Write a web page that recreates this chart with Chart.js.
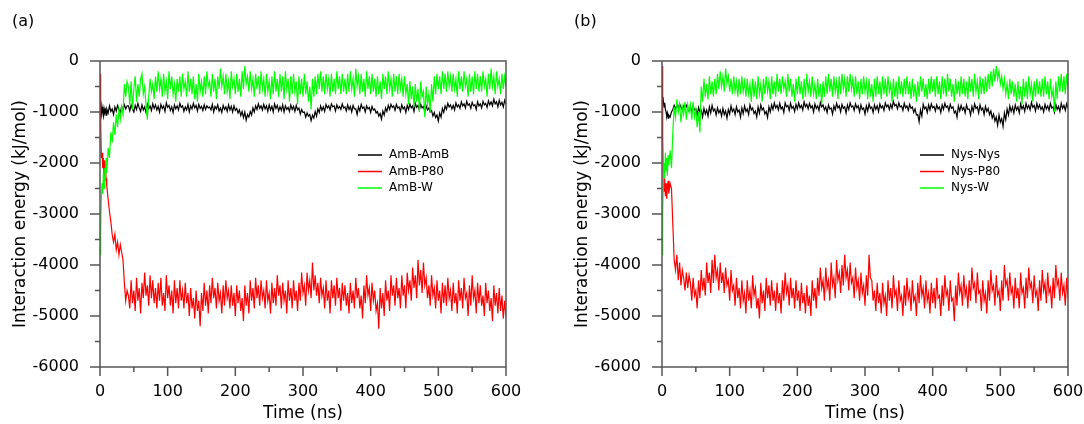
<!DOCTYPE html>
<html>
<head>
<meta charset="utf-8">
<script src="https://cdn.jsdelivr.net/npm/chart.js@4.4.1/dist/chart.umd.min.js"></script>
<style>
  html, body { margin: 0; padding: 0; background: #fff; overflow: hidden; width: 1084px; height: 424px; }
  .panel { position: absolute; top: 0; width: 540px; height: 424px; }
  #panelA { left: 0; }
  #panelB { left: 562px; }
</style>
</head>
<body>
<div class="panel" id="panelA"><canvas id="chartA"></canvas></div>
<div class="panel" id="panelB"><canvas id="chartB"></canvas></div>
<script>
// sample times (ns): 1 ns steps to 10 ns, then 2 ns steps
const time = [0,1,2,3,4,5,6,7,8,9,10,12,14,16,18,20,22,24,26,28,30,32,34,36,38,40,
  42,44,46,48,50,52,54,56,58,60,62,64,66,68,70,72,74,76,78,80,
  82,84,86,88,90,92,94,96,98,100,102,104,106,108,110,112,114,116,118,120,
  122,124,126,128,130,132,134,136,138,140,142,144,146,148,150,152,154,156,158,160,
  162,164,166,168,170,172,174,176,178,180,182,184,186,188,190,192,194,196,198,200,
  202,204,206,208,210,212,214,216,218,220,222,224,226,228,230,232,234,236,238,240,
  242,244,246,248,250,252,254,256,258,260,262,264,266,268,270,272,274,276,278,280,
  282,284,286,288,290,292,294,296,298,300,302,304,306,308,310,312,314,316,318,320,
  322,324,326,328,330,332,334,336,338,340,342,344,346,348,350,352,354,356,358,360,
  362,364,366,368,370,372,374,376,378,380,382,384,386,388,390,392,394,396,398,400,
  402,404,406,408,410,412,414,416,418,420,422,424,426,428,430,432,434,436,438,440,
  442,444,446,448,450,452,454,456,458,460,462,464,466,468,470,472,474,476,478,480,
  482,484,486,488,490,492,494,496,498,500,502,504,506,508,510,512,514,516,518,520,
  522,524,526,528,530,532,534,536,538,540,542,544,546,548,550,552,554,556,558,560,
  562,564,566,568,570,572,574,576,578,580,582,584,586,588,590,592,594,596,598,600];

// (a) AmB system, kJ/mol
const ambAmb = [-780,-950,-1050,-900,-1000,-1080,-930,-1010,-960,-1060,-940,-1020,-880,-990,-940,-1050,-900,-980,-870,-950,-1010,-890,-960,-860,-940,-880,
  -880,-980,-860,-940,-1000,-870,-950,-830,-920,-990,  -860,-960,-900,-1010,-850,-940,-880,-970,-840,-930,
  -860,-960,-890,-1000,-850,-930,-880,-990,-820,-910,  -870,-970,-900,-1010,-860,-940,-880,-960,-830,-910,
  -880,-990,-900,-960,-850,-1000,-880,-940,-830,-920,  -870,-980,-850,-930,-890,-970,-860,-950,-880,-920,
  -900,-960,-850,-1000,-890,-940,-860,-980,-920,-1010,  -870,-950,-900,-990,-860,-960,-890,-1000,-880,-970,
  -930,-1020,-960,-1070,-990,-1110,-1000,-1160,-1050,-1100,  -990,-1060,-920,-1000,-880,-950,-840,-930,-880,-960,
  -850,-940,-880,-990,-860,-960,-890,-1000,-840,-930,  -870,-980,-900,-970,-860,-1000,-880,-950,-910,-990,
  -860,-950,-890,-990,-870,-960,-920,-1040,-950,-1010,  -1000,-1100,-1020,-1080,-1050,-1170,-1060,-1120,-990,-1080,
  -940,-1010,-880,-970,-900,-990,-850,-920,-880,-960,  -840,-900,-880,-980,-860,-930,-890,-950,-840,-920,
  -900,-980,-860,-950,-890,-1000,-870,-940,-940,-1050,  -900,-980,-850,-930,-900,-1000,-880,-940,-910,-1010,
  -890,-960,-940,-1020,-990,-1080,-1030,-1140,-980,-1060,  -920,-990,-870,-950,-850,-910,-880,-970,-850,-920,
  -900,-990,-860,-940,-900,-1010,-870,-950,-840,-920,  -880,-990,-830,-910,-870,-960,-850,-920,-890,-990,
  -880,-960,-920,-1000,-970,-1080,-1010,-1110,-1060,-1180,  -1020,-1100,-930,-1010,-880,-950,-830,-900,-860,-940,
  -870,-960,-820,-900,-860,-930,-800,-880,-840,-920,  -790,-870,-840,-930,-810,-880,-860,-950,-800,-880,
  -840,-920,-790,-860,-830,-910,-780,-860,-800,-880,  -750,-840,-800,-900,-770,-860,-810,-900,-770,-850];
const ambP80 = [-250,-1200,-1900,-1800,-2100,-1900,-2250,-1950,-2050,-2300,-2450,-2700,-2950,-3150,-3400,-3550,-3400,-3700,-3550,-3800,-3600,-3750,-3900,-4350,-4700,-4500,
  -4600,-4850,-4300,-4750,-4500,-4900,-4250,-4700,-4450,-4950,  -4350,-4650,-4150,-4600,-4400,-4800,-4200,-4650,-4300,-4750,
  -4450,-4850,-4350,-4700,-4250,-4800,-4550,-4900,-4200,-4650,  -4400,-4800,-4500,-4950,-4300,-4750,-4450,-4850,-4300,-4700,
  -4500,-4850,-4350,-4750,-4550,-5000,-4450,-4850,-4650,-5050,  -4500,-4900,-4700,-5200,-4550,-4900,-4350,-4800,-4500,-4950,
  -4400,-4750,-4250,-4650,-4450,-4850,-4350,-4700,-4550,-4950,  -4400,-4800,-4300,-4650,-4500,-4850,-4400,-4800,-4550,-5000,
  -4400,-4750,-4500,-4900,-4650,-5100,-4400,-4800,-4550,-4950,  -4300,-4700,-4450,-4850,-4250,-4650,-4400,-4800,-4300,-4650,
  -4500,-4850,-4300,-4700,-4550,-4950,-4350,-4750,-4450,-4800,  -4200,-4600,-4400,-4850,-4350,-4700,-4500,-4950,-4300,-4700,
  -4450,-4850,-4300,-4700,-4500,-4900,-4350,-4700,-4150,-4550,  -4400,-4800,-4150,-4500,-4300,-4650,-3950,-4500,-4200,-4600,
  -4350,-4750,-4250,-4600,-4450,-4850,-4300,-4700,-4500,-4950,  -4300,-4650,-4400,-4800,-4250,-4650,-4450,-4900,-4350,-4700,
  -4400,-4800,-4550,-4950,-4350,-4750,-4500,-4850,-4250,-4650,  -4450,-4850,-4600,-5050,-4400,-4750,-4200,-4600,-4450,-4900,
  -4350,-4700,-4500,-4900,-4750,-5250,-4450,-4850,-4550,-5000,  -4300,-4700,-4500,-4900,-4200,-4600,-4400,-4800,-4250,-4650,
  -4450,-4850,-4200,-4600,-4400,-4850,-4150,-4500,-4300,-4700,  -4050,-4450,-4200,-4650,-3900,-4400,-4100,-4550,-3950,-4400,
  -4250,-4650,-4400,-4800,-4200,-4600,-4450,-4850,-4300,-4700,  -4500,-4950,-4350,-4750,-4400,-4800,-4250,-4650,-4500,-4900,
  -4350,-4750,-4550,-4950,-4300,-4700,-4450,-4850,-4250,-4650,  -4550,-5000,-4400,-4800,-4200,-4650,-4500,-4950,-4350,-4750,
  -4400,-4800,-4600,-5000,-4350,-4750,-4500,-4900,-4650,-5100,  -4400,-4800,-4550,-4950,-4450,-4900,-4600,-5050,-4700,-5000];
const ambW = [-3800,-3300,-2700,-2400,-2600,-2200,-2500,-2100,-2350,-1900,-2200,-1700,-1900,-1400,-1600,-1200,-1450,-1050,-1300,-950,-1150,-900,-1050,-450,-700,-400,
  -500,-850,-400,-950,-550,-300,-800,-450,-700,-350,  -250,-650,-500,-850,-1150,-700,-350,-600,-450,-750,
  -300,-600,-200,-550,-350,-700,-250,-600,-400,-750,  -200,-550,-300,-650,-450,-800,-350,-600,-300,-700,
  -250,-550,-400,-700,-200,-600,-350,-650,-300,-750,  -450,-800,-250,-600,-400,-700,-300,-650,-200,-500,
  -400,-700,-250,-600,-350,-750,-300,-550,-150,-500,  -300,-650,-250,-600,-400,-750,-200,-500,-350,-650,
  -250,-600,-350,-700,-200,-550,-100,-450,-300,-600,  -200,-550,-350,-700,-250,-550,-300,-650,-200,-550,
  -350,-700,-250,-600,-400,-750,-300,-650,-200,-600,  -350,-700,-250,-600,-300,-750,-200,-550,-350,-800,
  -300,-650,-250,-600,-400,-850,-300,-650,-350,-700,  -250,-650,-400,-800,-500,-950,-350,-700,-300,-650,
  -250,-550,-200,-600,-300,-650,-250,-550,-350,-700,  -250,-600,-350,-650,-200,-550,-300,-650,-250,-600,
  -350,-650,-250,-600,-200,-550,-350,-700,-150,-500,  -300,-650,-250,-600,-350,-700,-200,-550,-300,-650,
  -250,-600,-350,-700,-300,-650,-400,-750,-250,-550,  -300,-650,-200,-550,-350,-700,-250,-600,-300,-650,
  -250,-550,-350,-700,-300,-650,-450,-850,-400,-750,  -500,-900,-450,-800,-550,-1000,-400,-700,-600,-1100,
  -500,-850,-650,-1000,-450,-800,-300,-650,-250,-550,  -300,-650,-200,-550,-250,-600,-200,-500,-300,-600,
  -250,-550,-350,-700,-200,-550,-300,-600,-200,-500,  -350,-700,-250,-600,-300,-650,-200,-550,-250,-600,
  -300,-600,-200,-500,-350,-700,-250,-550,-150,-500,  -300,-650,-200,-500,-350,-650,-250,-550,-300,-500];

// (b) Nys system, kJ/mol
const nysNys = [-700,-850,-780,-900,-820,-950,-1000,-1080,-1020,-1120,-1060,-1100,-1000,-950,-870,-940,-860,-920,-840,-900,-960,-880,-940,-870,-930,-980,
  -900,-1000,-880,-960,-940,-1060,-910,-1000,-960,-1100,  -930,-1040,-960,-1080,-900,-1020,-870,-980,-940,-1060,
  -920,-1020,-960,-1080,-930,-1050,-980,-1120,-950,-1040,  -880,-990,-940,-1050,-900,-1000,-960,-1100,-920,-1030,
  -880,-990,-940,-1050,-860,-960,-920,-1030,-980,-1100,  -900,-1020,-860,-960,-920,-1040,-990,-1110,-900,-1000,
  -860,-950,-820,-920,-870,-960,-830,-940,-900,-1010,  -820,-900,-870,-970,-830,-930,-890,-990,-850,-940,
  -820,-920,-870,-960,-800,-900,-850,-940,-830,-920,  -880,-1000,-840,-930,-880,-970,-810,-900,-860,-960,
  -900,-1010,-860,-940,-920,-1040,-880,-960,-830,-920,  -880,-1000,-850,-930,-900,-1020,-860,-950,-820,-900,
  -880,-970,-840,-920,-880,-1000,-860,-950,-920,-1040,  -880,-980,-840,-930,-900,-1010,-860,-950,-880,-990,
  -840,-920,-880,-970,-820,-900,-860,-950,-850,-930,  -790,-880,-850,-940,-820,-900,-880,-970,-830,-920,
  -880,-970,-850,-930,-900,-1010,-940,-1060,-1050,-1190,  -960,-1080,-850,-940,-900,-1010,-860,-960,-840,-920,
  -890,-980,-860,-940,-900,-1010,-860,-950,-830,-910,  -880,-980,-850,-930,-900,-1020,-980,-1100,-880,-980,
  -870,-960,-910,-1020,-860,-950,-940,-1060,-890,-990,  -840,-930,-900,-1020,-860,-960,-920,-1050,-890,-990,
  -930,-1050,-980,-1120,-1040,-1180,-1100,-1260,-1060,-1200,  -1130,-1280,-1020,-1150,-940,-1060,-880,-990,-900,-1020,
  -860,-960,-900,-1020,-840,-940,-880,-990,-830,-930,  -870,-960,-810,-910,-870,-980,-830,-930,-860,-950,
  -900,-1000,-850,-940,-880,-970,-830,-920,-900,-1010,  -850,-950,-890,-990,-830,-930,-870,-970,-840,-930];
const nysP80 = [-100,-1500,-2400,-2550,-2300,-2650,-2400,-2700,-2450,-2350,-2600,-2400,-2500,-3200,-3900,-4100,-3800,-4300,-3950,-4400,-4100,-4250,-4500,-4150,-4450,-4200,
  -4350,-4700,-4250,-4600,-4500,-4850,-4300,-4650,-4100,-4500,  -4250,-4600,-3950,-4350,-4150,-4550,-3900,-4350,-3800,-4250,
  -4100,-4500,-3950,-4350,-4150,-4550,-4050,-4400,-4300,-4700,  -4100,-4500,-4400,-4800,-4250,-4650,-4450,-4850,-4300,-4700,
  -4550,-4950,-4300,-4700,-4500,-4850,-4200,-4600,-4450,-4850,  -4650,-5050,-4350,-4750,-4500,-4900,-4250,-4650,-4400,-4800,
  -4300,-4700,-4500,-4900,-4350,-4750,-4550,-4950,-4300,-4700,  -4150,-4550,-4400,-4800,-4250,-4650,-4450,-4850,-4300,-4700,
  -4500,-4900,-4350,-4750,-4550,-4950,-4400,-4800,-4600,-5000,  -4300,-4700,-4450,-4850,-4250,-4600,-4050,-4450,-4300,-4700,
  -4050,-4450,-4300,-4700,-3950,-4400,-4250,-4650,-3900,-4300,  -4150,-4550,-4000,-4400,-3800,-4250,-4100,-4500,-3950,-4350,
  -4250,-4650,-4050,-4450,-4300,-4700,-4150,-4550,-4400,-4800,  -4200,-4600,-3800,-4250,-4300,-4700,-4500,-4900,-4350,-4750,
  -4550,-4950,-4350,-4750,-4600,-5000,-4300,-4700,-4450,-4850,  -4200,-4600,-4500,-4900,-4300,-4700,-4600,-5000,-4400,-4800,
  -4250,-4650,-4500,-4900,-4300,-4700,-4600,-5000,-4350,-4750,  -4200,-4600,-4450,-4850,-4300,-4700,-4550,-4950,-4350,-4750,
  -4450,-4850,-4250,-4650,-4600,-5000,-4400,-4800,-4200,-4600,  -4500,-4900,-4300,-4700,-4650,-5100,-4400,-4800,-4150,-4550,
  -4400,-4800,-4200,-4600,-4450,-4850,-4300,-4700,-4050,-4450,  -4350,-4750,-4150,-4550,-4500,-4900,-4300,-4700,-4550,-4950,
  -4300,-4700,-4100,-4500,-4400,-4800,-4200,-4600,-4500,-4900,  -4300,-4700,-4000,-4400,-4300,-4700,-4150,-4550,-4450,-4850,
  -4250,-4650,-4450,-4850,-4150,-4550,-4450,-4850,-4250,-4650,  -4050,-4450,-4350,-4750,-4200,-4600,-4500,-4900,-4300,-4700,
  -4100,-4500,-4350,-4750,-4150,-4550,-4450,-4850,-4250,-4650,  -4000,-4400,-4300,-4700,-4150,-4550,-4400,-4800,-4250,-4650];
const nysW = [-3800,-3000,-2300,-2000,-2300,-1800,-2150,-1900,-2250,-1850,-2050,-1750,-2100,-1400,-900,-1100,-750,-1000,-850,-1200,-900,-1050,-800,-1150,-850,-1000,
  -850,-1150,-800,-1100,-950,-1300,-1000,-1400,-500,-800,  -350,-700,-450,-750,-300,-650,-400,-700,-350,-650,
  -250,-550,-200,-500,-300,-600,-150,-450,-300,-600,  -350,-650,-300,-600,-400,-700,-350,-650,-300,-600,
  -400,-700,-350,-650,-450,-800,-350,-700,-400,-750,  -300,-650,-450,-800,-350,-650,-300,-600,-400,-750,
  -300,-650,-400,-700,-250,-600,-350,-650,-300,-550,  -400,-700,-250,-600,-350,-700,-450,-800,-350,-650,
  -300,-650,-400,-750,-350,-700,-250,-600,-400,-700,  -300,-650,-450,-750,-350,-700,-450,-850,-400,-700,
  -300,-650,-250,-600,-350,-700,-300,-600,-400,-750,  -300,-650,-250,-550,-350,-700,-300,-600,-250,-550,
  -350,-700,-300,-650,-400,-750,-350,-650,-300,-600,  -400,-750,-350,-700,-450,-800,-350,-700,-300,-650,
  -400,-750,-300,-650,-350,-700,-300,-600,-450,-800,  -350,-700,-400,-750,-300,-650,-400,-700,-350,-650,
  -300,-650,-400,-750,-350,-700,-450,-800,-400,-700,  -300,-600,-350,-700,-450,-750,-350,-650,-300,-600,
  -350,-700,-300,-650,-400,-750,-300,-650,-350,-700,  -250,-600,-350,-700,-450,-800,-350,-650,-400,-700,
  -300,-650,-350,-700,-400,-750,-300,-600,-350,-700,  -250,-600,-400,-750,-300,-650,-350,-650,-300,-600,
  -250,-550,-200,-500,-150,-400,-100,-350,-200,-450,  -300,-550,-350,-650,-450,-750,-350,-650,-400,-700,
  -450,-800,-400,-750,-500,-850,-350,-700,-400,-750,  -300,-650,-450,-800,-400,-700,-350,-650,-400,-700,
  -350,-700,-300,-650,-400,-750,-350,-700,-550,-1000,  -400,-750,-300,-600,-250,-600,-300,-650,-250,-550];

const FONT = '"DejaVu Sans", sans-serif';
const AXIS = '#555';

// box, outward major/minor ticks, inset legend and panel tag
const framePlugin = {
  id: 'frame',
  afterDraw(chart, args, opts) {
    const { ctx, chartArea: a, scales: { x, y } } = chart;
    ctx.save();
    ctx.strokeStyle = AXIS;
    ctx.lineWidth = 1.5;
    ctx.beginPath();
    ctx.rect(a.left, a.top, a.right - a.left, a.bottom - a.top);
    for (let v = x.min; v <= x.max; v += 50) {
      const px = x.getPixelForValue(v);
      ctx.moveTo(px, a.bottom);
      ctx.lineTo(px, a.bottom + (v % 100 === 0 ? 9 : 5));
    }
    for (let v = y.min; v <= y.max; v += 500) {
      const py = y.getPixelForValue(v);
      ctx.moveTo(a.left, py);
      ctx.lineTo(a.left - (v % 1000 === 0 ? 10 : 5), py);
    }
    ctx.stroke();

    ctx.font = '12px ' + FONT;
    ctx.textBaseline = 'middle';
    ctx.fillStyle = '#000';
    chart.data.datasets.forEach((ds, i) => {
      const ly = opts.legendY + i * 16.5;
      ctx.strokeStyle = ds.borderColor;
      ctx.lineWidth = 1.5;
      ctx.beginPath();
      ctx.moveTo(opts.legendX, ly);
      ctx.lineTo(opts.legendX + 24, ly);
      ctx.stroke();
      ctx.fillText(ds.label, opts.legendX + 31, ly);
    });

    ctx.font = '16px ' + FONT;
    ctx.fillText(opts.tag, 12, 22);
    ctx.restore();
  }
};

function makeChart(id, tag, labels, series) {
  const colors = ['#000000', '#ff0000', '#00ff00'];
  const datasets = series.map((vals, i) => ({
    label: labels[i],
    data: time.map((t, k) => ({ x: t, y: vals[k] })),
    borderColor: colors[i],
    borderWidth: 1.2,
    pointRadius: 0,
    tension: 0,
    order: 2 - i
  }));
  return new Chart(document.getElementById(id), {
    type: 'line',
    data: { datasets },
    options: {
      responsive: true,
      maintainAspectRatio: false,
      animation: false,
      layout: { padding: { top: 61, right: 34, left: 0, bottom: 0 } },
      plugins: {
        legend: { display: false },
        tooltip: { enabled: false },
        frame: { tag, legendX: 358, legendY: 155 }
      },
      scales: {
        x: {
          type: 'linear', min: 0, max: 600,
          afterFit: s => { s.height = 57; },
          grid: { display: false },
          border: { display: false },
          ticks: { stepSize: 100, padding: 7, color: '#000', font: { family: FONT, size: 16 } },
          title: { display: true, text: 'Time (ns)', color: '#000', padding: { bottom: 0 }, font: { family: FONT, size: 17 } }
        },
        y: {
          min: -6000, max: 0,
          afterFit: s => { s.width = 100; },
          grid: { display: false },
          border: { display: false },
          ticks: { stepSize: 1000, padding: 13, color: '#000', font: { family: FONT, size: 16 },
                   callback: v => String(v) },
          title: { display: true, text: 'Interaction energy (kJ/mol)', color: '#000', padding: { top: 10 }, font: { family: FONT, size: 17 } }
        }
      }
    },
    plugins: [framePlugin]
  });
}

makeChart('chartA', '(a)', ['AmB-AmB', 'AmB-P80', 'AmB-W'], [ambAmb, ambP80, ambW]);
makeChart('chartB', '(b)', ['Nys-Nys', 'Nys-P80', 'Nys-W'], [nysNys, nysP80, nysW]);
</script>
</body>
</html>
